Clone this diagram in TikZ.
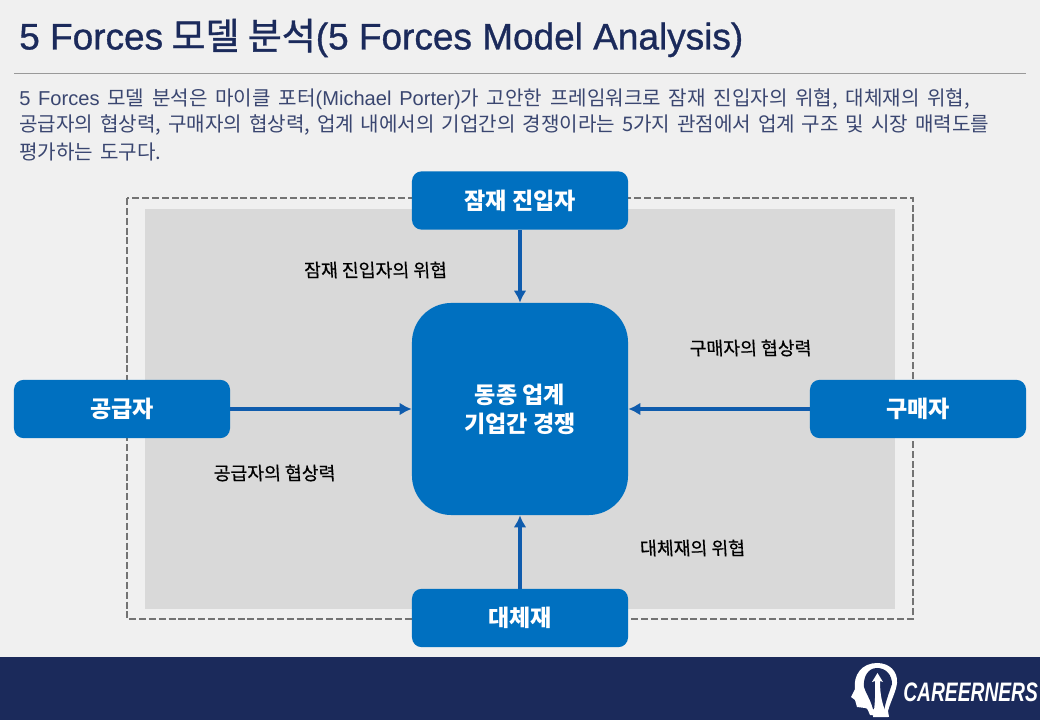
\documentclass[tikz,border=0pt]{standalone}
\usepackage{fontspec}
\setmainfont{Noto Sans CJK KR}
\newfontfamily\latinfont{Liberation Sans}
\newfontfamily\logofont[FakeStretch=0.72]{Liberation Sans}
\newfontfamily\titlefont[FakeBold=0.9]{Noto Sans CJK KR}
\newfontfamily\titlelatin[FakeBold=0.9]{Liberation Sans}
\newfontfamily\handfont[FakeBold=0.5,FakeSlant=-0.06]{Noto Sans CJK KR}
\newcommand{\lat}[1]{{\latinfont #1}}
\newcommand{\tlat}[1]{{\titlelatin #1}}
\usetikzlibrary{arrows.meta,positioning,calc}
\definecolor{pagegray}{HTML}{F0F0F0}
\definecolor{panelgray}{HTML}{D9D9D9}
\definecolor{navy}{HTML}{1B2A5B}
\definecolor{boxblue}{HTML}{0070C0}
\definecolor{arrowblue}{HTML}{0F5CAD}
\definecolor{bodyblue}{HTML}{3A4670}

\begin{document}
\begin{tikzpicture}[
  x=0.025cm,y=-0.025cm,
  forcebox/.style={fill=boxblue, rounded corners=7pt, minimum width=5.4cm, minimum height=1.46cm, inner sep=0pt, align=center, text=white, font=\fontsize{16.4}{20.5}\selectfont\bfseries},
  arr/.style={-{Latex[length=3mm,width=3.2mm]}, line width=2.8pt, arrowblue},
  hand/.style={font=\handfont\fontsize{13}{16}\selectfont, text=black, inner sep=0pt},
  bodyline/.style={anchor=west, inner sep=0pt, text=bodyblue, font=\fontsize{14.3}{17}\selectfont}
]
\useasboundingbox (0,0) rectangle (1040,720);
\fill[pagegray] (0,0) rectangle (1040,720);
\fill[navy] (0,657) rectangle (1040,720);

\node[anchor=west, inner sep=0pt, text=navy, font=\titlefont\fontsize{26.3}{30}\selectfont] (title) at (19,38) {\tlat{5 Forces} 모델 분석\tlat{(5 Forces Model Analysis)}};
\draw[gray!80, line width=0.6pt] (14,73) -- (1026,73);
\node[bodyline] (line1) at (19,99.5) {\spaceskip=5.5pt \lat{5 Forces} 모델 분석은 마이클 포터\lat{(Michael Porter)}가 고안한 프레임워크로 잠재 진입자의 위협, 대체재의 위협,};
\node[bodyline] (line2) at (19,125.5) {\spaceskip=4.9pt 공급자의 협상력, 구매자의 협상력, 업계 내에서의 기업간의 경쟁이라는 5가지 관점에서 업계 구조 및 시장 매력도를};
\node[bodyline] (line3) at (19,151.5) {\spaceskip=5pt 평가하는 도구다.};

% panel behind the forces
\fill[panelgray] (145,209) rectangle (895,609);
\draw[gray!90!black, dash pattern=on 5pt off 2pt, line width=1.1pt] (127,198) rectangle (913,619);

\node[forcebox] (entrant) at (520,200.5) {잠재 진입자};
\node[forcebox] (supplier) at (122,409) {공급자};
\node[forcebox] (buyer) at (918,409) {구매자};
\node[forcebox] (substitute) at (520,618) {대체재};
\node[forcebox, rounded corners=28pt, minimum height=5.3cm] (rivalry) at (520,409) {동종 업계\\기업간 경쟁};

\draw[arr] (entrant) -- (rivalry);
\draw[arr] (supplier) -- (rivalry);
\draw[arr] (buyer) -- (rivalry);
\draw[arr] (substitute) -- (rivalry);

\node[hand] (threatnew) at (376,270) {잠재 진입자의 위협};
\node[hand] (powerbuyer) at (751,348) {구매자의 협상력};
\node[hand] (powersupplier) at (275,473) {공급자의 협상력};
\node[hand] (threatsub) at (693,548) {대체재의 위협};

% logo
\fill[white] (870,715) .. controls (868,711) and (868,708) .. (865,708) -- (857,707) .. controls (855,705) and (857,702) .. (855,700) -- (851,697) -- (855,689) .. controls (853,675) and (862,663) .. (877,663) .. controls (890,663) and (898,672) .. (897,683) .. controls (896,692) and (891,700) .. (888,711) -- (889,717) -- cycle;
\fill[navy] (877,668) .. controls (868,668) and (863,677) .. (864,687) .. controls (866,694) and (870,698) .. (873,709) -- (884,712) .. controls (885,703) and (889,693) .. (892,684) .. controls (892,675) and (886,668) .. (877,668) -- cycle;
\fill[white] (877.5,673) -- (883,682) -- (880,681) .. controls (880,695) and (882,705) .. (888,717) -- (873,717) .. controls (875,705) and (875.5,695) .. (875,681) -- (872,682) -- cycle;
\node[anchor=west, inner sep=0pt, text=white, font=\logofont\fontsize{19}{22}\selectfont\bfseries\itshape] (logo) at (903,692) {CAREERNERS};
\end{tikzpicture}
\end{document}
